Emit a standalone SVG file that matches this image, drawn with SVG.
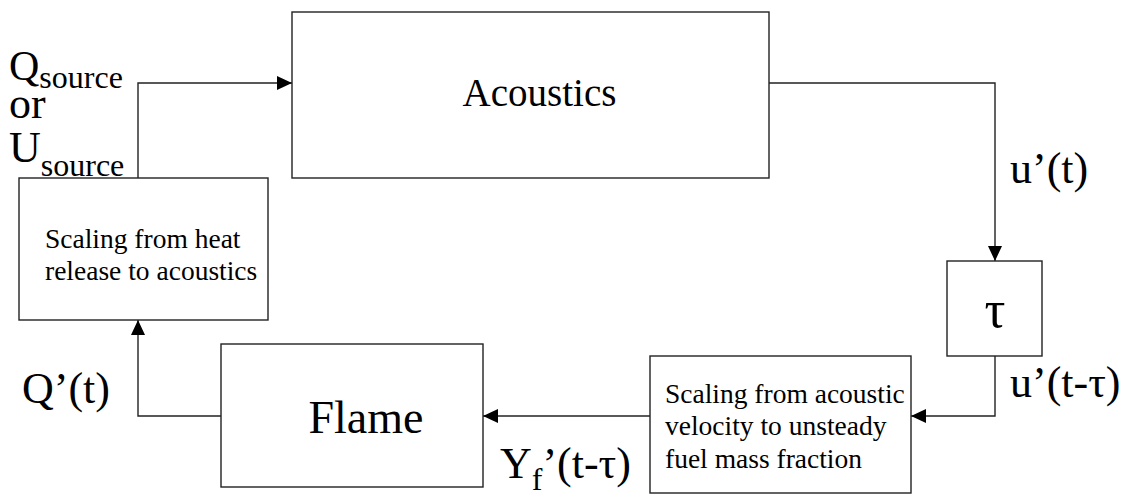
<svg xmlns="http://www.w3.org/2000/svg" width="1131" height="495" viewBox="0 0 1131 495">
  <style>
    .box { fill: #fff; stroke: #222; stroke-width: 1.4; }
    .wire { fill: none; stroke: #222; stroke-width: 1.4; }
    .serif { font-family: "Liberation Serif", "Times New Roman", serif; fill: #000; }
    .small { font-size: 27.5px; }
    .lbl { font-size: 44px; }
    .sub { font-size: 32px; }
  </style>
  <defs>
    <marker id="arrow" markerUnits="userSpaceOnUse" markerWidth="16" markerHeight="14" refX="15" refY="7" orient="auto">
      <path d="M0,0 L15,7 L0,14 Z" fill="#000"/>
    </marker>
  </defs>

  <rect width="1131" height="495" fill="#fff"/>

  <!-- connectors -->
  <g id="connectors">
    <path class="wire" d="M138,178 V83 H292" marker-end="url(#arrow)"/>
    <path class="wire" d="M769,83 H995 V261" marker-end="url(#arrow)"/>
    <path class="wire" d="M995,356 V416 H911" marker-end="url(#arrow)"/>
    <path class="wire" d="M650,416 H483" marker-end="url(#arrow)"/>
    <path class="wire" d="M221,416 H138 V320" marker-end="url(#arrow)"/>
  </g>

  <!-- blocks -->
  <g id="acoustics" class="serif">
    <rect class="box" x="292" y="12" width="477" height="166"/>
    <text x="539.5" y="106" font-size="39" text-anchor="middle">Acoustics</text>
  </g>

  <g id="tau" class="serif">
    <rect class="box" x="947" y="261" width="95" height="95"/>
    <text x="995" y="327" font-size="52" text-anchor="middle">τ</text>
  </g>

  <g id="velocity-to-fuel" class="serif small">
    <rect class="box" x="650" y="356" width="261" height="137"/>
    <text x="665" y="403">Scaling from acoustic</text>
    <text x="665" y="435">velocity to unsteady</text>
    <text x="665" y="468">fuel mass fraction</text>
  </g>

  <g id="flame" class="serif">
    <rect class="box" x="221" y="344" width="262" height="143"/>
    <text x="366" y="433" font-size="46" text-anchor="middle">Flame</text>
  </g>

  <g id="heat-to-acoustics" class="serif small">
    <rect class="box" x="19" y="178" width="249" height="142"/>
    <text x="45" y="248">Scaling from heat</text>
    <text x="45" y="280">release to acoustics</text>
  </g>

  <!-- signal labels -->
  <g id="labels" class="serif lbl">
    <text x="9" y="80" font-size="42">Q<tspan class="sub" y="88">source</tspan></text>
    <text x="9" y="118">or</text>
    <text x="9" y="162">U<tspan class="sub" y="176">source</tspan></text>
    <text x="1010" y="183">u’(t)</text>
    <text x="1010" y="397">u’(t-τ)</text>
    <text x="22" y="403">Q’(t)</text>
    <text x="500" y="478">Y<tspan class="sub" y="490">f</tspan><tspan y="478">’(t-τ)</tspan></text>
  </g>
</svg>
